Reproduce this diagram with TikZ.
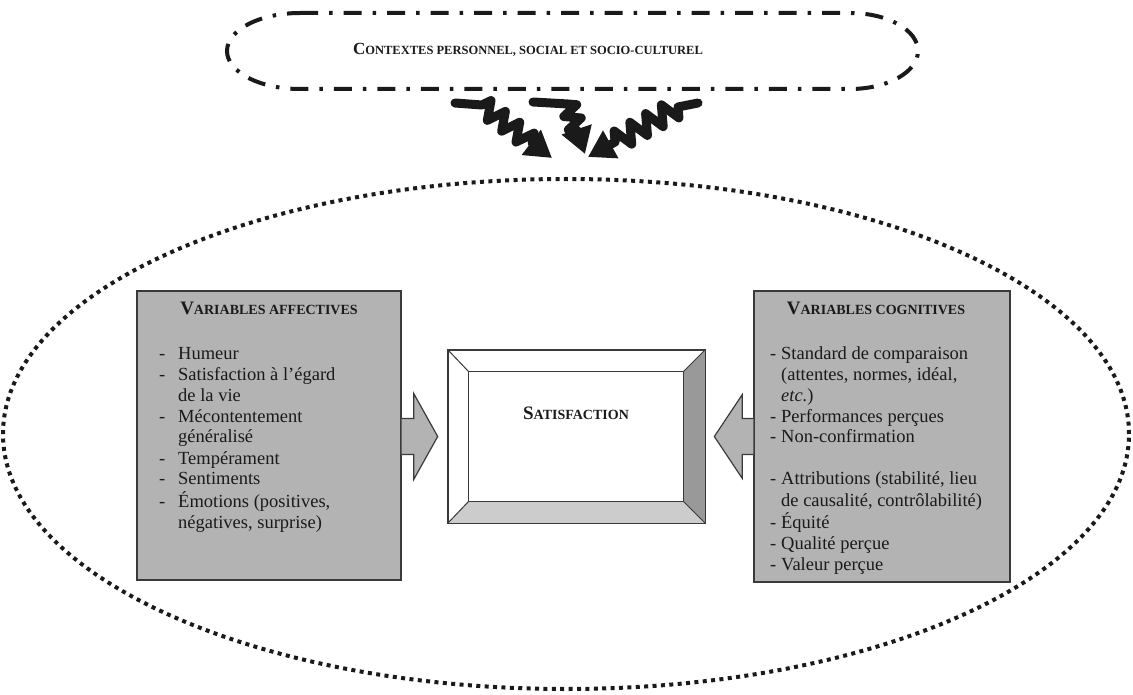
\documentclass[tikz,border=0pt]{standalone}
\usepackage{fontspec}
\setmainfont{Liberation Serif}
\usetikzlibrary{calc,decorations.pathmorphing,arrows.meta,shapes.geometric}
\definecolor{boxgray}{HTML}{B3B3B3}
\definecolor{edgegray}{HTML}{3A3A3A}
\definecolor{inkc}{HTML}{1A1A1A}
\definecolor{bevdark}{HTML}{999999}
\definecolor{bevlight}{HTML}{CCCCCC}
\newcommand\myhsc[2]{{\bfseries\fontsize{19}{19}\selectfont #1\fontsize{14}{14}\selectfont #2}}
\newcommand\myctxsc[2]{{\bfseries\fontsize{17}{17}\selectfont #1\fontsize{12.5}{12.5}\selectfont #2}}
\newcommand\mydashL{\makebox[19pt][l]{-}}
\newcommand\mydashR{\makebox[11pt][l]{-}}
\begin{document}
\begin{tikzpicture}[x=1pt,y=-1pt,
  gbox/.style={draw=edgegray, line width=1.4pt, fill=boxgray, inner sep=0pt},
  barrow/.style={draw=edgegray, line width=1.2pt, fill=boxgray, line join=miter},
  wave/.style={draw=inkc, line width=9pt, line join=round, line cap=round,
    -{Triangle[length=26pt,width=30pt]}},
  zz/.style={decoration={zigzag, amplitude=9pt, segment length=18pt, post length=22pt}},
  body/.style={anchor=base west, inner sep=0pt, text=inkc, font=\fontsize{18.5}{21}\selectfont},
  head/.style={anchor=base, inner sep=0pt, text=inkc}]
\useasboundingbox (0,0) rectangle (1133,695);

% outer dotted ellipse
\node[draw=inkc, line width=4pt, dash pattern=on 4pt off 4.4pt, ellipse, minimum width=1126pt, minimum height=510pt, inner sep=0pt] (big) at (566,434) {};

% context stadium
\draw[inkc, line width=4pt, dash pattern=on 18pt off 11pt on 3.5pt off 11pt]
  (300,13) -- (850,13)
  .. controls (887.6,13) and (918,30) .. (918,51)
  .. controls (918,72) and (887.6,89) .. (850,89)
  -- (300,89)
  .. controls (259.7,89) and (227,72) .. (227,51)
  .. controls (227,30) and (259.7,13) .. (300,13) -- cycle;
\node[head] (ctx) at (528,55) {\myctxsc{C}{ONTEXTES PERSONNEL, SOCIAL ET SOCIO-CULTUREL}};

% wavy arrows
\coordinate (w1s) at (455,103); \coordinate (w1m) at (482,105); \coordinate (w1t) at (552,158);
\coordinate (w2s) at (533,102); \coordinate (w2m) at (568,104); \coordinate (w2t) at (585,154);
\coordinate (w3s) at (698,103); \coordinate (w3m) at (678,107); \coordinate (w3t) at (588,157);
\draw[wave] (w1s) -- (w1m) decorate[zz] {-- (w1t)};
\draw[wave] (w2s) -- (w2m) decorate[zz, decoration={segment length=14pt, amplitude=8pt, post length=22pt}] {-- (w2t)};
\draw[wave] (w3s) -- (w3m) decorate[zz, decoration={amplitude=10pt}] {-- (w3t)};

% side boxes
\node[gbox, minimum width=264pt, minimum height=289pt] (aff) at (269,435.5) {};
\node[gbox, minimum width=256pt, minimum height=291pt] (cog) at (882,436.5) {};

\node[head] (affh) at (269,314) {\myhsc{V}{ARIABLES AFFECTIVES}};
\node[head] (cogh) at (876,314) {\myhsc{V}{ARIABLES COGNITIVES}};

\node[body] (afft) at (159,359) {\begin{tabular}[t]{@{}l@{}}
\mydashL Humeur\\
\mydashL Satisfaction à l'égard\\
\hspace*{19pt}de la vie\\
\mydashL Mécontentement\\
\hspace*{19pt}généralisé\\
\mydashL Tempérament\\
\mydashL Sentiments\\
\mydashL Émotions (positives,\\
\hspace*{19pt}négatives, surprise)
\end{tabular}};

\node[body] (cogt) at (770,359) {\begin{tabular}[t]{@{}l@{}}
\mydashR Standard de comparaison\\
\hspace*{11pt}(attentes, normes, idéal,\\
\hspace*{11pt}\textit{etc.})\\
\mydashR Performances perçues\\
\mydashR Non-confirmation\\
\\
\mydashR Attributions (stabilité, lieu\\
\hspace*{11pt}de causalité, contrôlabilité)\\
\mydashR Équité\\
\mydashR Qualité perçue\\
\mydashR Valeur perçue
\end{tabular}};

% satisfaction bevel box
\node[minimum width=257pt, minimum height=173pt, inner sep=0pt] (sat) at (576.5,436.5) {};
\coordinate (i1) at ($(sat.north west)+(21,22)$);
\coordinate (i2) at ($(sat.north east)+(-22,22)$);
\coordinate (i3) at ($(sat.south east)+(-22,-22)$);
\coordinate (i4) at ($(sat.south west)+(21,-22)$);
\fill[white] (sat.north west) -- (sat.north east) -- (i2) -- (i1) -- cycle;
\fill[bevdark] (sat.north east) -- (sat.south east) -- (i3) -- (i2) -- cycle;
\fill[bevlight] (sat.south east) -- (sat.south west) -- (i4) -- (i3) -- cycle;
\fill[white] (sat.south west) -- (sat.north west) -- (i1) -- (i4) -- cycle;
\draw[edgegray, line width=1.4pt] (sat.north west) rectangle (sat.south east);
\draw[edgegray, line width=1.2pt] (i1) rectangle (i3);
\draw[edgegray, line width=1pt] (sat.north west) -- (i1) (sat.north east) -- (i2)
  (sat.south east) -- (i3) (sat.south west) -- (i4);
\node[head] (satl) at (576,419) {\myhsc{S}{ATISFACTION}};

% block arrows
\draw[barrow] ($(aff.east)+(0,-17)$) -- ++(12,0) -- ++(0,-25) -- ++(24,43) -- ++(-24,43) -- ++(0,-25) -- ++(-12,0);
\draw[barrow] ($(cog.west)+(0,-18)$) -- ++(-11,0) -- ++(0,-24) -- ++(-28,42) -- ++(28,42) -- ++(0,-24) -- ++(11,0);
\end{tikzpicture}
\end{document}
